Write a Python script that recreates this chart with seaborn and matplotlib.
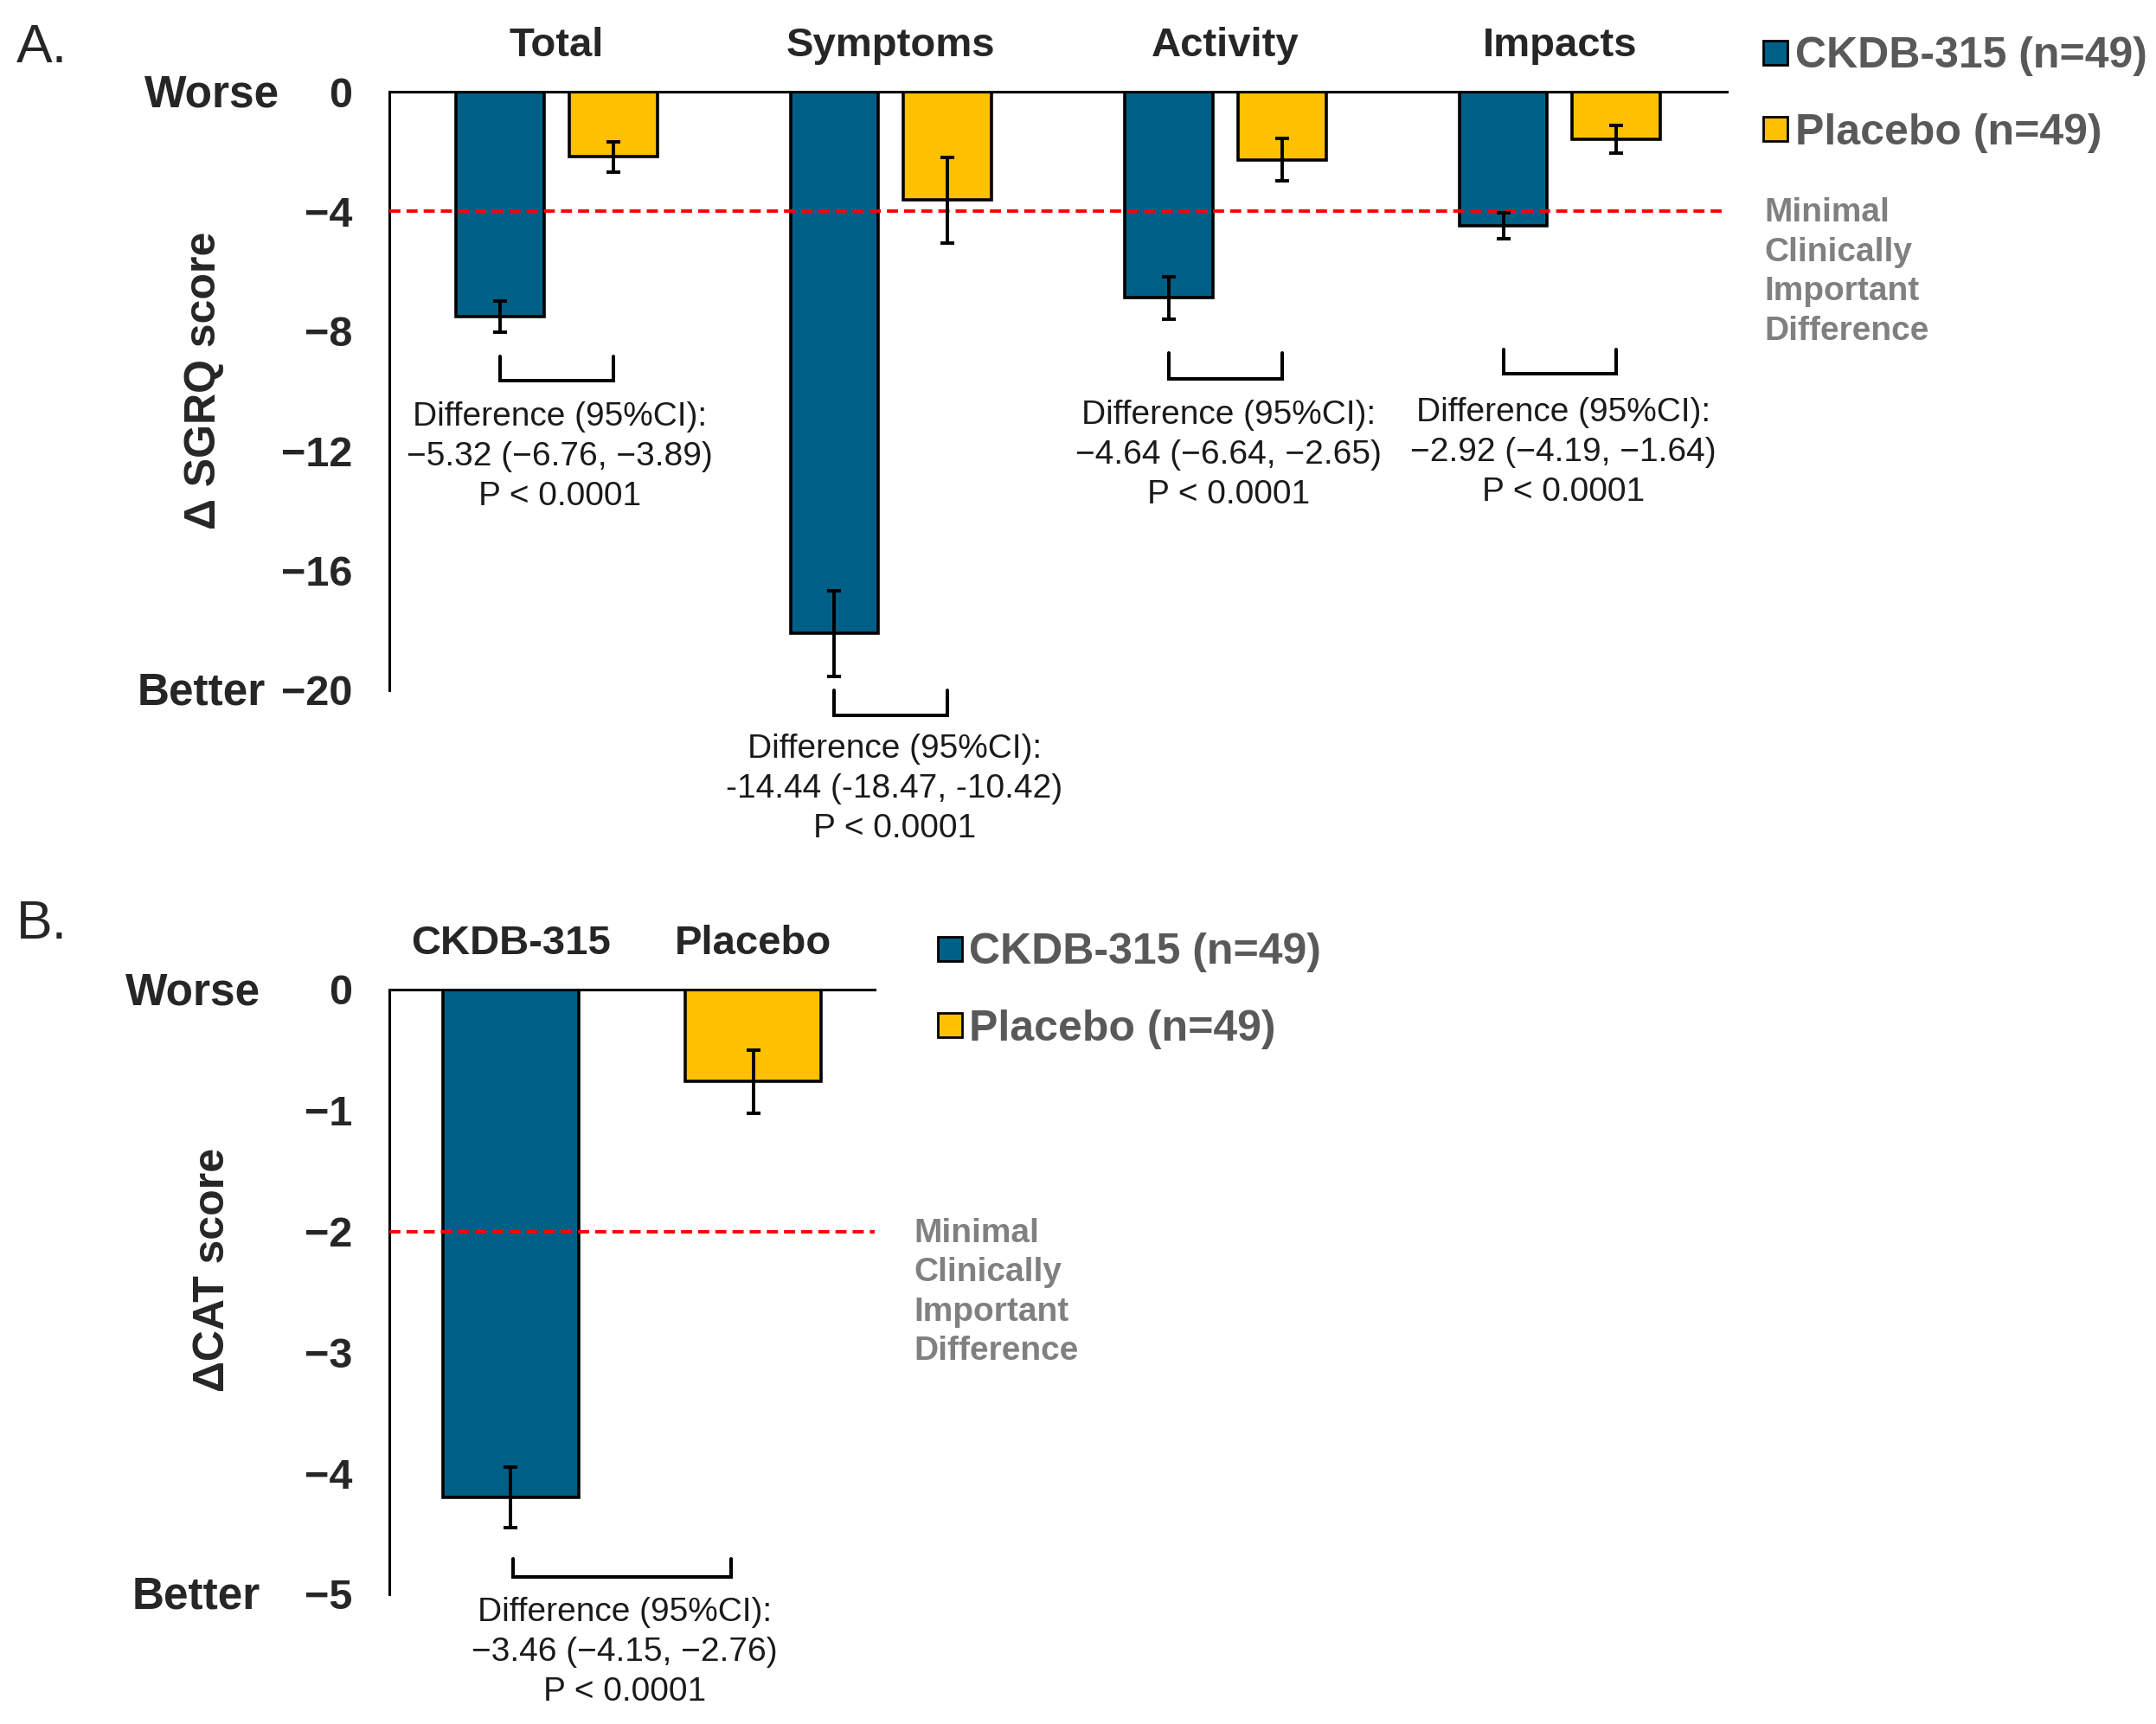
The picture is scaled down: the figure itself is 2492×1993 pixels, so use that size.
import numpy as np
import pandas as pd
import matplotlib
matplotlib.use('Agg')
import matplotlib.pyplot as plt
from matplotlib.lines import Line2D
import seaborn as sns

# ---- panel A: SGRQ change by domain ----
domains = ['Total', 'Symptoms', 'Activity', 'Impacts']
groups = ['CKDB-315', 'Placebo']
legend_labels = ['CKDB-315 (n=49)', 'Placebo (n=49)']
sgrq_ckdb = [-7.5, -18.1, -6.88, -4.48]
sgrq_placebo = [-2.18, -3.62, -2.27, -1.59]
sgrq_ckdb_err = [0.52, 1.43, 0.71, 0.42]
sgrq_placebo_err = [0.5, 1.43, 0.72, 0.46]
sgrq_diff = ['\u22125.32 (\u22126.76, \u22123.89)',
             '-14.44 (-18.47, -10.42)',
             '\u22124.64 (\u22126.64, \u22122.65)',
             '\u22122.92 (\u22124.19, \u22121.64)']
sgrq_ticks = [0, -4, -8, -12, -16, -20]
sgrq_mcid = -4

# ---- panel B: CAT change ----
cat_change = [-4.2, -0.76]
cat_err = [0.25, 0.26]
cat_diff = '\u22123.46 (\u22124.15, \u22122.76)'
cat_ticks = [0, -1, -2, -3, -4, -5]
cat_mcid = -2

p_text = 'P < 0.0001'
colors = ['#005F87', '#FFC000']

# annotation layout (bracket legs / bar and text middle line, data units)
sgrq_bracket = [(-8.83, -9.66), (-20.0, -20.83), (-8.74, -9.6), (-8.6, -9.43)]
sgrq_text_y = [-12.2, -23.3, -12.14, -12.05]

sns.set_style('white')
plt.rcParams['font.family'] = ['Liberation Sans', 'DejaVu Sans']
plt.rcParams['axes.unicode_minus'] = True

fig = plt.figure(figsize=(24.92, 19.93), dpi=100)
axA = fig.add_axes([0.1806, 0.5996, 0.6204, 0.3472])
axB = fig.add_axes([0.1806, 0.0753, 0.2250, 0.3507])

txt_col = '#1a1a1a'
leg_col = '#595959'
mcid_col = '#808080'
edge_lw = 2.6


def style_axis(ax, ticks, ylabel, label_xy):
    ax.set_ylim(min(ticks), 0)
    ax.set_yticks(ticks)
    ax.set_yticklabels([f'{t:d}'.replace('-', '\u2212') for t in ticks])
    ax.tick_params(axis='y', length=0, pad=31, labelsize=35)
    for lab in ax.get_yticklabels():
        lab.set_fontweight('bold')
    ax.xaxis.set_ticks_position('top')
    ax.tick_params(axis='x', length=0, pad=22, labelsize=34)
    for lab in ax.get_xticklabels():
        lab.set_fontweight('bold')
    ax.set_xlabel('')
    ax.set_ylabel(ylabel, fontsize=36, fontweight='bold')
    ax.yaxis.set_label_coords(*label_xy)
    for s in ['bottom', 'right']:
        ax.spines[s].set_visible(False)
    for s in ['top', 'left']:
        ax.spines[s].set_linewidth(2.2)
        ax.spines[s].set_color('black')


def worse_better(ax, ymin, dx_w, dx_b):
    ax.annotate('Worse', xy=(0, 0), xycoords=('axes fraction', 'data'),
                xytext=(dx_w, -4), textcoords='offset pixels',
                ha='right', va='center', fontsize=37, fontweight='bold',
                annotation_clip=False)
    ax.annotate('Better', xy=(0, ymin), xycoords=('axes fraction', 'data'),
                xytext=(dx_b, -3), textcoords='offset pixels',
                ha='right', va='center', fontsize=37, fontweight='bold',
                annotation_clip=False)


def mcid_note(ax, y, dx):
    ax.axhline(y, color='#FF0000', lw=2.8, ls=(0, (3.3, 1.8)), zorder=4,
               clip_on=False)
    ax.annotate('Minimal\nClinically\nImportant\nDifference',
                xy=(1, y), xycoords=('axes fraction', 'data'),
                xytext=(dx, 16), textcoords='offset pixels',
                ha='left', va='top', fontsize=28, fontweight='bold',
                color=mcid_col, linespacing=1.34, annotation_clip=False)


def legend_for(ax, anchor):
    handles = [Line2D([], [], marker='s', ls='none', markersize=19.5,
                      markerfacecolor=c, markeredgecolor='black',
                      markeredgewidth=2.0) for c in colors]
    leg = fig.legend(handles, legend_labels, loc='upper left',
                     bbox_to_anchor=anchor, frameon=False,
                     handlelength=0.6, handletextpad=0.15, borderpad=0,
                     borderaxespad=0, labelspacing=0.85,
                     prop={'size': 36, 'weight': 'bold'})
    for t in leg.get_texts():
        t.set_color(leg_col)


def bracket(ax, x0, x1, ytop, ybot):
    ax.plot([x0, x0, x1, x1], [ytop, ybot, ybot, ytop], color='black',
            lw=2.9, clip_on=False, solid_joinstyle='miter')


# ---------------- panel A ----------------
dfA = pd.DataFrame({
    'domain': domains * 2,
    'group': [groups[0]] * 4 + [groups[1]] * 4,
    'change': sgrq_ckdb + sgrq_placebo,
})
sns.barplot(data=dfA, x='domain', y='change', hue='group', order=domains,
            hue_order=groups, palette=colors, saturation=1, width=0.676,
            gap=0.22, edgecolor='black', linewidth=edge_lw, errorbar=None,
            legend=False, ax=axA, zorder=2)
axA.set_xlim(-0.5, 3.5)
centers = []
for cont, err in zip(axA.containers, [sgrq_ckdb_err, sgrq_placebo_err]):
    xs = [b.get_x() + b.get_width() / 2 for b in cont]
    ys = [b.get_height() for b in cont]
    centers.append(xs)
    axA.errorbar(xs, ys, yerr=err, fmt='none', ecolor='black', elinewidth=2.8,
                 capsize=6, capthick=2.8, zorder=5)
style_axis(axA, sgrq_ticks, '\u0394 SGRQ score', (-0.1235, 0.517))
worse_better(axA, -20, -127, -143)
mcid_note(axA, sgrq_mcid, 43)
for i in range(len(domains)):
    bracket(axA, centers[0][i], centers[1][i], *sgrq_bracket[i])
    axA.text(i + 0.01, sgrq_text_y[i],
             'Difference (95%CI):\n' + sgrq_diff[i] + '\n' + p_text,
             ha='center', va='center', fontsize=28, color=txt_col,
             linespacing=1.36, clip_on=False)
legend_for(axA, (0.8176, 0.9788))
fig.text(0.0076, 0.972, 'A.', fontsize=45, va='center', ha='left')

# ---------------- panel B ----------------
dfB = pd.DataFrame({'group': groups, 'change': cat_change})
sns.barplot(data=dfB, x='group', y='change', hue='group', order=groups,
            hue_order=groups, palette=colors, saturation=1, width=0.56,
            edgecolor='black', linewidth=edge_lw, errorbar=None,
            legend=False, ax=axB, zorder=2)
axB.set_xlim(-0.5, 1.5)
barsB = sorted(axB.patches, key=lambda b: b.get_x())
xsB = [b.get_x() + b.get_width() / 2 for b in barsB]
axB.errorbar(xsB, cat_change, yerr=cat_err, fmt='none', ecolor='black',
             elinewidth=2.8, capsize=6, capthick=2.8, zorder=5)
style_axis(axB, cat_ticks, '\u0394CAT score', (-0.3226, 0.536))
worse_better(axB, -5, -149, -149)
mcid_note(axB, cat_mcid, 46)
bracket(axB, xsB[0] + 0.01, xsB[0] + 0.907, -4.71, -4.86)
axB.text(xsB[0] + 0.47, -5.48,
         'Difference (95%CI):\n' + cat_diff + '\n' + p_text,
         ha='center', va='center', fontsize=28, color=txt_col,
         linespacing=1.36, clip_on=False)
legend_for(axB, (0.4344, 0.4590))
fig.text(0.0076, 0.464, 'B.', fontsize=45, va='center', ha='left')

fig.savefig('out.png', dpi=100)
